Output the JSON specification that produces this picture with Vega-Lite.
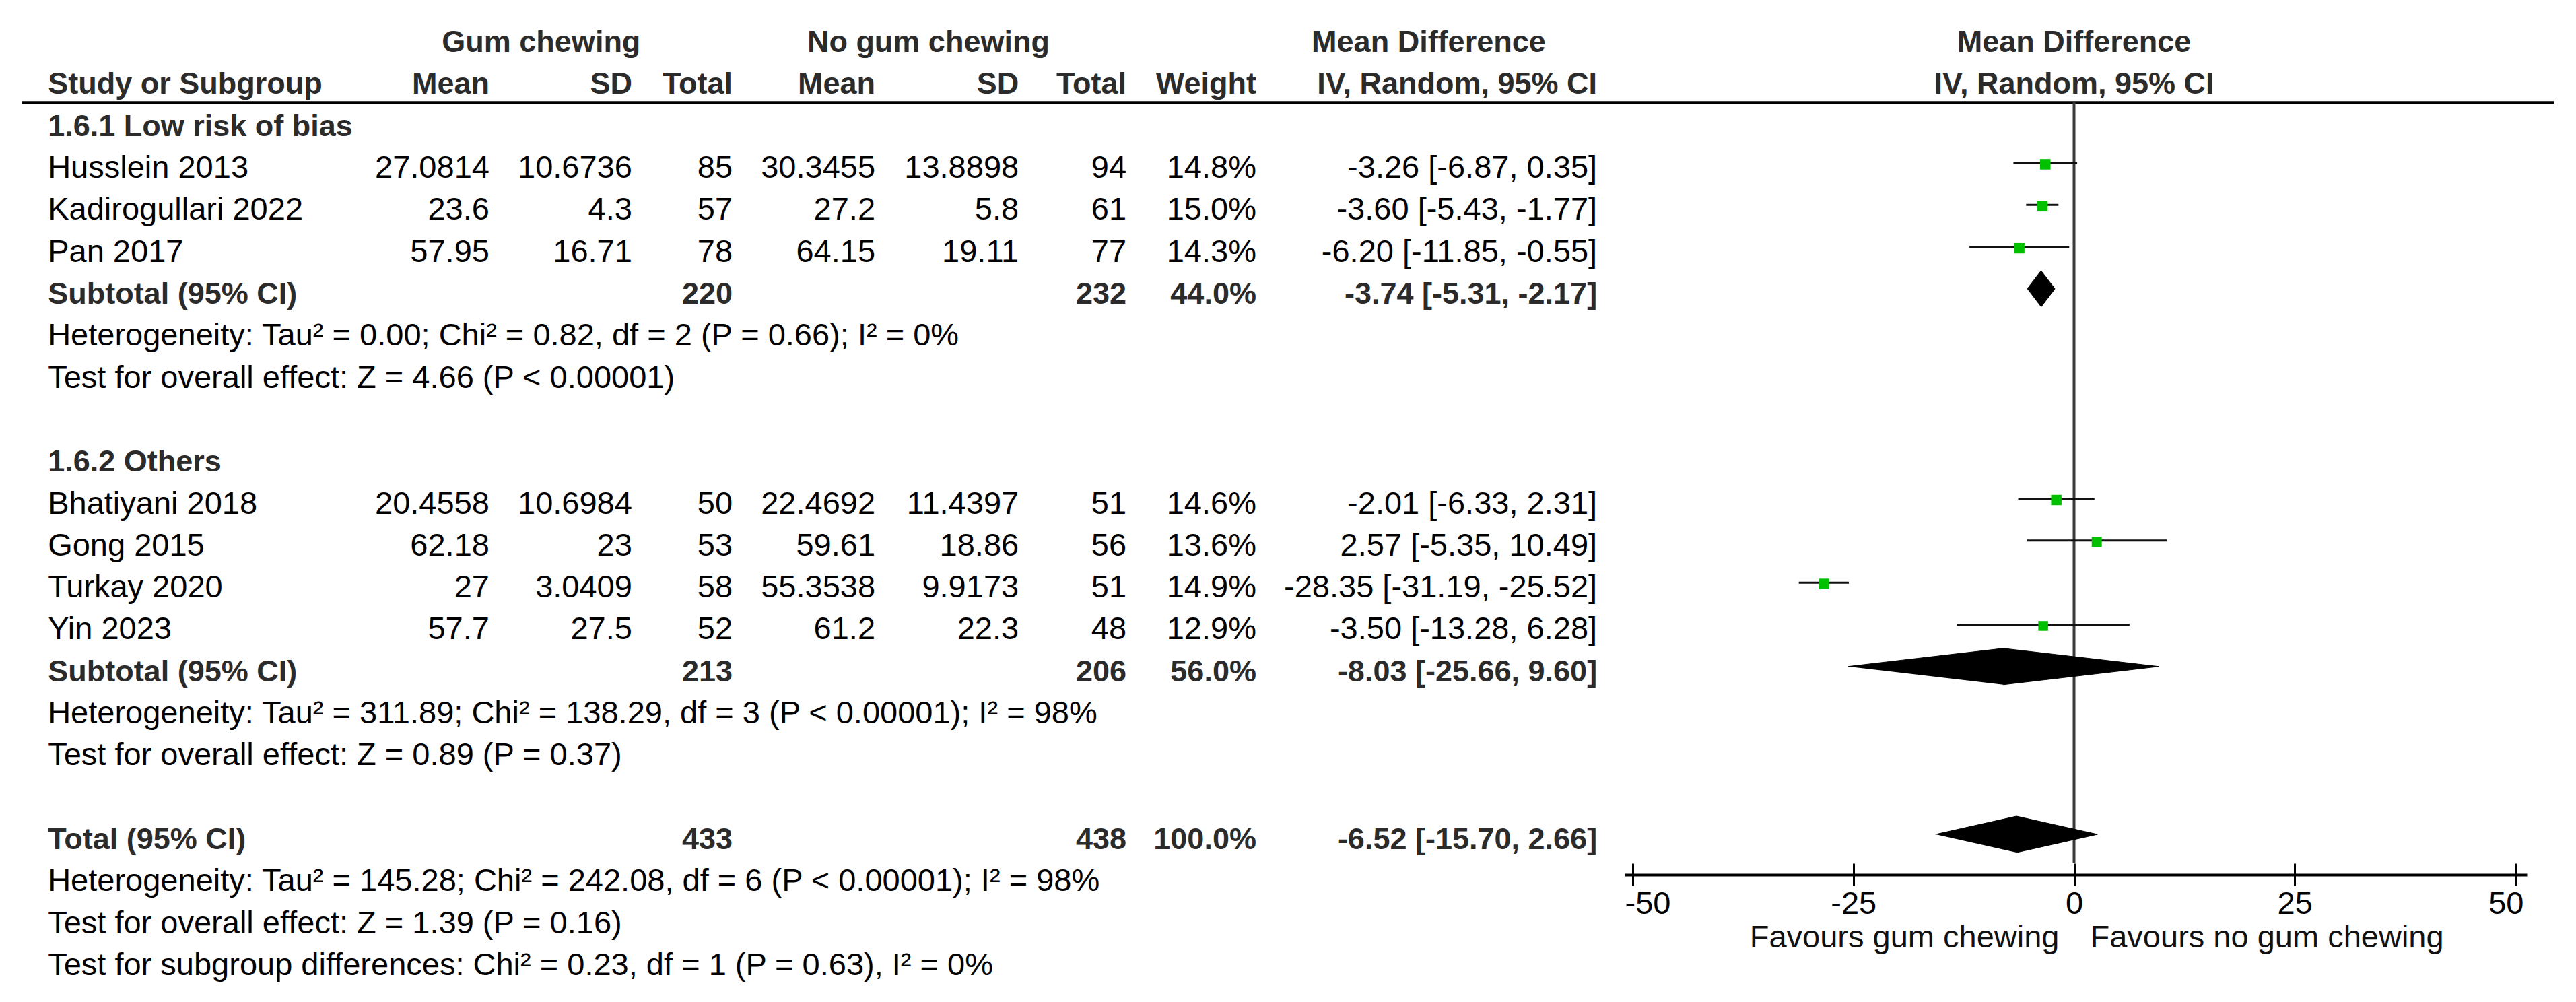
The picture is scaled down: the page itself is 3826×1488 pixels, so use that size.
{
  "$schema": "https://vega.github.io/schema/vega-lite/v6.json",
  "width": 3826,
  "height": 1282,
  "autosize": {"type": "none"},
  "padding": {"left": 0, "top": 0, "right": 0, "bottom": 206},
  "background": "white",
  "config": {"view": {"stroke": null}, "axis": {"grid": false}},
  "datasets": {
    "table": [
      {"row": "hdr2", "type": "head", "label": "Study or Subgroup", "gM": "Mean", "gSD": "SD", "gN": "Total", "nM": "Mean", "nSD": "SD", "nN": "Total", "w": "Weight", "ci": "IV, Random, 95% CI"},
      {"row": "Husslein 2013", "type": "study", "label": "Husslein 2013", "gM": "27.0814", "gSD": "10.6736", "gN": "85", "nM": "30.3455", "nSD": "13.8898", "nN": "94", "w": "14.8%", "ci": "-3.26 [-6.87, 0.35]", "weight": 14.8, "md": -3.26, "lo": -6.87, "hi": 0.35},
      {"row": "Kadirogullari 2022", "type": "study", "label": "Kadirogullari 2022", "gM": "23.6", "gSD": "4.3", "gN": "57", "nM": "27.2", "nSD": "5.8", "nN": "61", "w": "15.0%", "ci": "-3.60 [-5.43, -1.77]", "weight": 15.0, "md": -3.60, "lo": -5.43, "hi": -1.77},
      {"row": "Pan 2017", "type": "study", "label": "Pan 2017", "gM": "57.95", "gSD": "16.71", "gN": "78", "nM": "64.15", "nSD": "19.11", "nN": "77", "w": "14.3%", "ci": "-6.20 [-11.85, -0.55]", "weight": 14.3, "md": -6.20, "lo": -11.85, "hi": -0.55},
      {"row": "sub1", "type": "sub", "label": "Subtotal (95% CI)", "gN": "220", "nN": "232", "w": "44.0%", "ci": "-3.74 [-5.31, -2.17]"},
      {"row": "Bhatiyani 2018", "type": "study", "label": "Bhatiyani 2018", "gM": "20.4558", "gSD": "10.6984", "gN": "50", "nM": "22.4692", "nSD": "11.4397", "nN": "51", "w": "14.6%", "ci": "-2.01 [-6.33, 2.31]", "weight": 14.6, "md": -2.01, "lo": -6.33, "hi": 2.31},
      {"row": "Gong 2015", "type": "study", "label": "Gong 2015", "gM": "62.18", "gSD": "23", "gN": "53", "nM": "59.61", "nSD": "18.86", "nN": "56", "w": "13.6%", "ci": "2.57 [-5.35, 10.49]", "weight": 13.6, "md": 2.57, "lo": -5.35, "hi": 10.49},
      {"row": "Turkay 2020", "type": "study", "label": "Turkay 2020", "gM": "27", "gSD": "3.0409", "gN": "58", "nM": "55.3538", "nSD": "9.9173", "nN": "51", "w": "14.9%", "ci": "-28.35 [-31.19, -25.52]", "weight": 14.9, "md": -28.35, "lo": -31.19, "hi": -25.52},
      {"row": "Yin 2023", "type": "study", "label": "Yin 2023", "gM": "57.7", "gSD": "27.5", "gN": "52", "nM": "61.2", "nSD": "22.3", "nN": "48", "w": "12.9%", "ci": "-3.50 [-13.28, 6.28]", "weight": 12.9, "md": -3.50, "lo": -13.28, "hi": 6.28},
      {"row": "sub2", "type": "sub", "label": "Subtotal (95% CI)", "gN": "213", "nN": "206", "w": "56.0%", "ci": "-8.03 [-25.66, 9.60]"},
      {"row": "total", "type": "sub", "label": "Total (95% CI)", "gN": "433", "nN": "438", "w": "100.0%", "ci": "-6.52 [-15.70, 2.66]"}
    ],
    "diamonds": [
      {"row": "sub1", "vertex": 1, "side": "mid", "value": -5.31},
      {"row": "sub1", "vertex": 2, "side": "top", "value": -3.74},
      {"row": "sub1", "vertex": 3, "side": "mid", "value": -2.17},
      {"row": "sub1", "vertex": 4, "side": "bot", "value": -3.74},
      {"row": "sub2", "vertex": 1, "side": "mid", "value": -25.66},
      {"row": "sub2", "vertex": 2, "side": "top", "value": -8.03},
      {"row": "sub2", "vertex": 3, "side": "mid", "value": 9.60},
      {"row": "sub2", "vertex": 4, "side": "bot", "value": -8.03},
      {"row": "total", "vertex": 1, "side": "mid", "value": -15.70},
      {"row": "total", "vertex": 2, "side": "top", "value": -6.52},
      {"row": "total", "vertex": 3, "side": "mid", "value": 2.66},
      {"row": "total", "vertex": 4, "side": "bot", "value": -6.52}
    ],
    "notes": [
      {"row": "g1", "type": "group", "text": "1.6.1 Low risk of bias"},
      {"row": "het1", "type": "note", "text": "Heterogeneity: Tau² = 0.00; Chi² = 0.82, df = 2 (P = 0.66); I² = 0%"},
      {"row": "test1", "type": "note", "text": "Test for overall effect: Z = 4.66 (P < 0.00001)"},
      {"row": "g2", "type": "group", "text": "1.6.2 Others"},
      {"row": "het2", "type": "note", "text": "Heterogeneity: Tau² = 311.89; Chi² = 138.29, df = 3 (P < 0.00001); I² = 98%"},
      {"row": "test2", "type": "note", "text": "Test for overall effect: Z = 0.89 (P = 0.37)"},
      {"row": "het3", "type": "note", "text": "Heterogeneity: Tau² = 145.28; Chi² = 242.08, df = 6 (P < 0.00001); I² = 98%"},
      {"row": "test3", "type": "note", "text": "Test for overall effect: Z = 1.39 (P = 0.16)"},
      {"row": "subtest", "type": "note", "text": "Test for subgroup differences: Chi² = 0.23, df = 1 (P = 0.63), I² = 0%"}
    ],
    "heads": [
      {"row": "hdr1", "col": "gum", "text": "Gum chewing"},
      {"row": "hdr1", "col": "nogum", "text": "No gum chewing"},
      {"row": "hdr1", "col": "mdtab", "text": "Mean Difference"},
      {"row": "hdr1", "col": "plot", "text": "Mean Difference"},
      {"row": "hdr2", "col": "plot", "text": "IV, Random, 95% CI"}
    ],
    "favours": [
      {"side": "left", "text": "Favours gum chewing"},
      {"side": "right", "text": "Favours no gum chewing"}
    ]
  },
  "encoding": {
    "y": {
      "field": "row",
      "type": "ordinal",
      "scale": {
        "type": "point",
        "domain": ["hdr1", "hdr2", "g1", "Husslein 2013", "Kadirogullari 2022", "Pan 2017", "sub1", "het1", "test1", "gap1", "g2", "Bhatiyani 2018", "Gong 2015", "Turkay 2020", "Yin 2023", "sub2", "het2", "test2", "gap2", "total", "het3", "test3", "subtest"],
        "range": [55, 1426],
        "padding": 0
      },
      "axis": null
    }
  },
  "resolve": {"scale": {"x": "independent"}},
  "layer": [
    {
      "data": {"values": [{}]},
      "mark": {"type": "rule", "strokeWidth": 4, "color": "#000", "yOffset": 35},
      "encoding": {
        "x": {"datum": 0.84, "type": "quantitative", "scale": {"domain": [0, 100], "range": [0, 3826], "nice": false, "zero": false}, "axis": null},
        "x2": {"datum": 99.14},
        "y": {"datum": "hdr2", "type": "ordinal"}
      }
    },
    {
      "data": {"values": [{}]},
      "mark": {"type": "rule", "strokeWidth": 4, "color": "#3a3a3a", "yOffset": 35},
      "encoding": {
        "x": {"datum": 0, "type": "quantitative", "scale": {"domain": [-50.92, 51.3], "range": [2413, 3753], "nice": false, "zero": false}, "axis": null},
        "y": {"datum": "hdr2", "type": "ordinal"},
        "y2": {"value": "height"}
      }
    },
    {
      "data": {"name": "heads"},
      "transform": [{"filter": "datum.col === 'plot'"}],
      "mark": {"type": "text", "align": "center", "baseline": "alphabetic", "dy": 22, "font": "Liberation Sans", "fontSize": 45, "fontWeight": "bold", "color": "#2b2b2b"},
      "encoding": {
        "x": {"datum": 0, "type": "quantitative", "scale": {"domain": [-50.92, 51.3], "range": [2413, 3753], "nice": false, "zero": false}, "axis": null},
        "text": {"field": "text", "type": "nominal"}
      }
    },
    {
      "data": {"name": "heads"},
      "transform": [{"filter": "datum.col === 'gum'"}],
      "mark": {"type": "text", "align": "center", "baseline": "alphabetic", "dy": 22, "font": "Liberation Sans", "fontSize": 45, "fontWeight": "bold", "color": "#2b2b2b"},
      "encoding": {
        "x": {"datum": 21.01, "type": "quantitative", "scale": {"domain": [0, 100], "range": [0, 3826], "nice": false, "zero": false}, "axis": null},
        "text": {"field": "text", "type": "nominal"}
      }
    },
    {
      "data": {"name": "heads"},
      "transform": [{"filter": "datum.col === 'nogum'"}],
      "mark": {"type": "text", "align": "center", "baseline": "alphabetic", "dy": 22, "font": "Liberation Sans", "fontSize": 45, "fontWeight": "bold", "color": "#2b2b2b"},
      "encoding": {
        "x": {"datum": 36.04, "type": "quantitative", "scale": {"domain": [0, 100], "range": [0, 3826], "nice": false, "zero": false}, "axis": null},
        "text": {"field": "text", "type": "nominal"}
      }
    },
    {
      "data": {"name": "heads"},
      "transform": [{"filter": "datum.col === 'mdtab'"}],
      "mark": {"type": "text", "align": "center", "baseline": "alphabetic", "dy": 22, "font": "Liberation Sans", "fontSize": 45, "fontWeight": "bold", "color": "#2b2b2b"},
      "encoding": {
        "x": {"datum": 55.46, "type": "quantitative", "scale": {"domain": [0, 100], "range": [0, 3826], "nice": false, "zero": false}, "axis": null},
        "text": {"field": "text", "type": "nominal"}
      }
    },
    {
      "data": {"name": "notes"},
      "transform": [{"filter": "datum.type === 'group'"}],
      "mark": {"type": "text", "align": "left", "baseline": "alphabetic", "dy": 22, "font": "Liberation Sans", "fontSize": 45, "fontWeight": "bold", "color": "#2b2b2b"},
      "encoding": {
        "x": {"datum": 1.86, "type": "quantitative", "scale": {"domain": [0, 100], "range": [0, 3826], "nice": false, "zero": false}, "axis": null},
        "text": {"field": "text", "type": "nominal"}
      }
    },
    {
      "data": {"name": "notes"},
      "transform": [{"filter": "datum.type === 'note'"}],
      "mark": {"type": "text", "align": "left", "baseline": "alphabetic", "dy": 22, "font": "Liberation Sans", "fontSize": 47, "color": "#000"},
      "encoding": {
        "x": {"datum": 1.86, "type": "quantitative", "scale": {"domain": [0, 100], "range": [0, 3826], "nice": false, "zero": false}, "axis": null},
        "text": {"field": "text", "type": "nominal"}
      }
    },
    {
      "data": {"name": "table"},
      "transform": [{"filter": "datum.type === 'study'"}],
      "mark": {"type": "text", "align": "left", "baseline": "alphabetic", "dy": 22, "font": "Liberation Sans", "fontSize": 47, "color": "#000"},
      "encoding": {
        "x": {"datum": 1.86, "type": "quantitative", "scale": {"domain": [0, 100], "range": [0, 3826], "nice": false, "zero": false}, "axis": null},
        "text": {"field": "label", "type": "nominal"}
      }
    },
    {
      "data": {"name": "table"},
      "transform": [{"filter": "datum.type === 'study'"}],
      "mark": {"type": "text", "align": "right", "baseline": "alphabetic", "dy": 22, "font": "Liberation Sans", "fontSize": 47, "color": "#000"},
      "encoding": {
        "x": {"datum": 19.0, "type": "quantitative", "scale": {"domain": [0, 100], "range": [0, 3826], "nice": false, "zero": false}, "axis": null},
        "text": {"field": "gM", "type": "nominal"}
      }
    },
    {
      "data": {"name": "table"},
      "transform": [{"filter": "datum.type === 'study'"}],
      "mark": {"type": "text", "align": "right", "baseline": "alphabetic", "dy": 22, "font": "Liberation Sans", "fontSize": 47, "color": "#000"},
      "encoding": {
        "x": {"datum": 24.54, "type": "quantitative", "scale": {"domain": [0, 100], "range": [0, 3826], "nice": false, "zero": false}, "axis": null},
        "text": {"field": "gSD", "type": "nominal"}
      }
    },
    {
      "data": {"name": "table"},
      "transform": [{"filter": "datum.type === 'study'"}],
      "mark": {"type": "text", "align": "right", "baseline": "alphabetic", "dy": 22, "font": "Liberation Sans", "fontSize": 47, "color": "#000"},
      "encoding": {
        "x": {"datum": 28.44, "type": "quantitative", "scale": {"domain": [0, 100], "range": [0, 3826], "nice": false, "zero": false}, "axis": null},
        "text": {"field": "gN", "type": "nominal"}
      }
    },
    {
      "data": {"name": "table"},
      "transform": [{"filter": "datum.type === 'study'"}],
      "mark": {"type": "text", "align": "right", "baseline": "alphabetic", "dy": 22, "font": "Liberation Sans", "fontSize": 47, "color": "#000"},
      "encoding": {
        "x": {"datum": 33.98, "type": "quantitative", "scale": {"domain": [0, 100], "range": [0, 3826], "nice": false, "zero": false}, "axis": null},
        "text": {"field": "nM", "type": "nominal"}
      }
    },
    {
      "data": {"name": "table"},
      "transform": [{"filter": "datum.type === 'study'"}],
      "mark": {"type": "text", "align": "right", "baseline": "alphabetic", "dy": 22, "font": "Liberation Sans", "fontSize": 47, "color": "#000"},
      "encoding": {
        "x": {"datum": 39.55, "type": "quantitative", "scale": {"domain": [0, 100], "range": [0, 3826], "nice": false, "zero": false}, "axis": null},
        "text": {"field": "nSD", "type": "nominal"}
      }
    },
    {
      "data": {"name": "table"},
      "transform": [{"filter": "datum.type === 'study'"}],
      "mark": {"type": "text", "align": "right", "baseline": "alphabetic", "dy": 22, "font": "Liberation Sans", "fontSize": 47, "color": "#000"},
      "encoding": {
        "x": {"datum": 43.73, "type": "quantitative", "scale": {"domain": [0, 100], "range": [0, 3826], "nice": false, "zero": false}, "axis": null},
        "text": {"field": "nN", "type": "nominal"}
      }
    },
    {
      "data": {"name": "table"},
      "transform": [{"filter": "datum.type === 'study'"}],
      "mark": {"type": "text", "align": "right", "baseline": "alphabetic", "dy": 22, "font": "Liberation Sans", "fontSize": 47, "color": "#000"},
      "encoding": {
        "x": {"datum": 48.77, "type": "quantitative", "scale": {"domain": [0, 100], "range": [0, 3826], "nice": false, "zero": false}, "axis": null},
        "text": {"field": "w", "type": "nominal"}
      }
    },
    {
      "data": {"name": "table"},
      "transform": [{"filter": "datum.type === 'study'"}],
      "mark": {"type": "text", "align": "right", "baseline": "alphabetic", "dy": 22, "font": "Liberation Sans", "fontSize": 47, "color": "#000"},
      "encoding": {
        "x": {"datum": 62.0, "type": "quantitative", "scale": {"domain": [0, 100], "range": [0, 3826], "nice": false, "zero": false}, "axis": null},
        "text": {"field": "ci", "type": "nominal"}
      }
    },
    {
      "data": {"name": "table"},
      "transform": [{"filter": "datum.type !== 'study'"}],
      "mark": {"type": "text", "align": "left", "baseline": "alphabetic", "dy": 22, "font": "Liberation Sans", "fontSize": 45, "fontWeight": "bold", "color": "#2b2b2b"},
      "encoding": {
        "x": {"datum": 1.86, "type": "quantitative", "scale": {"domain": [0, 100], "range": [0, 3826], "nice": false, "zero": false}, "axis": null},
        "text": {"field": "label", "type": "nominal"}
      }
    },
    {
      "data": {"name": "table"},
      "transform": [{"filter": "datum.type !== 'study' && isValid(datum.gM)"}],
      "mark": {"type": "text", "align": "right", "baseline": "alphabetic", "dy": 22, "font": "Liberation Sans", "fontSize": 45, "fontWeight": "bold", "color": "#2b2b2b"},
      "encoding": {
        "x": {"datum": 19.0, "type": "quantitative", "scale": {"domain": [0, 100], "range": [0, 3826], "nice": false, "zero": false}, "axis": null},
        "text": {"field": "gM", "type": "nominal"}
      }
    },
    {
      "data": {"name": "table"},
      "transform": [{"filter": "datum.type !== 'study' && isValid(datum.gSD)"}],
      "mark": {"type": "text", "align": "right", "baseline": "alphabetic", "dy": 22, "font": "Liberation Sans", "fontSize": 45, "fontWeight": "bold", "color": "#2b2b2b"},
      "encoding": {
        "x": {"datum": 24.54, "type": "quantitative", "scale": {"domain": [0, 100], "range": [0, 3826], "nice": false, "zero": false}, "axis": null},
        "text": {"field": "gSD", "type": "nominal"}
      }
    },
    {
      "data": {"name": "table"},
      "transform": [{"filter": "datum.type !== 'study' && isValid(datum.gN)"}],
      "mark": {"type": "text", "align": "right", "baseline": "alphabetic", "dy": 22, "font": "Liberation Sans", "fontSize": 45, "fontWeight": "bold", "color": "#2b2b2b"},
      "encoding": {
        "x": {"datum": 28.44, "type": "quantitative", "scale": {"domain": [0, 100], "range": [0, 3826], "nice": false, "zero": false}, "axis": null},
        "text": {"field": "gN", "type": "nominal"}
      }
    },
    {
      "data": {"name": "table"},
      "transform": [{"filter": "datum.type !== 'study' && isValid(datum.nM)"}],
      "mark": {"type": "text", "align": "right", "baseline": "alphabetic", "dy": 22, "font": "Liberation Sans", "fontSize": 45, "fontWeight": "bold", "color": "#2b2b2b"},
      "encoding": {
        "x": {"datum": 33.98, "type": "quantitative", "scale": {"domain": [0, 100], "range": [0, 3826], "nice": false, "zero": false}, "axis": null},
        "text": {"field": "nM", "type": "nominal"}
      }
    },
    {
      "data": {"name": "table"},
      "transform": [{"filter": "datum.type !== 'study' && isValid(datum.nSD)"}],
      "mark": {"type": "text", "align": "right", "baseline": "alphabetic", "dy": 22, "font": "Liberation Sans", "fontSize": 45, "fontWeight": "bold", "color": "#2b2b2b"},
      "encoding": {
        "x": {"datum": 39.55, "type": "quantitative", "scale": {"domain": [0, 100], "range": [0, 3826], "nice": false, "zero": false}, "axis": null},
        "text": {"field": "nSD", "type": "nominal"}
      }
    },
    {
      "data": {"name": "table"},
      "transform": [{"filter": "datum.type !== 'study' && isValid(datum.nN)"}],
      "mark": {"type": "text", "align": "right", "baseline": "alphabetic", "dy": 22, "font": "Liberation Sans", "fontSize": 45, "fontWeight": "bold", "color": "#2b2b2b"},
      "encoding": {
        "x": {"datum": 43.73, "type": "quantitative", "scale": {"domain": [0, 100], "range": [0, 3826], "nice": false, "zero": false}, "axis": null},
        "text": {"field": "nN", "type": "nominal"}
      }
    },
    {
      "data": {"name": "table"},
      "transform": [{"filter": "datum.type !== 'study' && isValid(datum.w)"}],
      "mark": {"type": "text", "align": "right", "baseline": "alphabetic", "dy": 22, "font": "Liberation Sans", "fontSize": 45, "fontWeight": "bold", "color": "#2b2b2b"},
      "encoding": {
        "x": {"datum": 48.77, "type": "quantitative", "scale": {"domain": [0, 100], "range": [0, 3826], "nice": false, "zero": false}, "axis": null},
        "text": {"field": "w", "type": "nominal"}
      }
    },
    {
      "data": {"name": "table"},
      "transform": [{"filter": "datum.type !== 'study' && isValid(datum.ci)"}],
      "mark": {"type": "text", "align": "right", "baseline": "alphabetic", "dy": 22, "font": "Liberation Sans", "fontSize": 45, "fontWeight": "bold", "color": "#2b2b2b"},
      "encoding": {
        "x": {"datum": 62.0, "type": "quantitative", "scale": {"domain": [0, 100], "range": [0, 3826], "nice": false, "zero": false}, "axis": null},
        "text": {"field": "ci", "type": "nominal"}
      }
    },
    {
      "data": {"name": "table"},
      "transform": [{"filter": "datum.type === 'study'"}],
      "mark": {"type": "rule", "strokeWidth": 3, "color": "#111"},
      "encoding": {
        "x": {
          "field": "lo", "type": "quantitative",
          "scale": {"domain": [-50.92, 51.3], "range": [2413, 3753], "nice": false, "zero": false},
          "axis": {"orient": "bottom", "values": [-50, -25, 0, 25, 50], "domain": true, "domainWidth": 4, "domainColor": "#000", "ticks": false, "labels": false, "title": null, "grid": false, "offset": 17}
        },
        "x2": {"field": "hi"}
      }
    },
    {
      "data": {"name": "table"},
      "transform": [{"filter": "datum.type === 'study'"}],
      "mark": {"type": "square", "filled": true, "color": "#00C000", "opacity": 1, "yOffset": 2},
      "encoding": {
        "x": {
          "field": "md", "type": "quantitative",
          "scale": {"domain": [-50.92, 51.3], "range": [2413, 3753], "nice": false, "zero": false},
          "axis": {"orient": "bottom", "values": [-50, -25, 0, 25, 50], "labelExpr": "'' + datum.value", "domain": false, "ticks": true, "tickSize": 33, "tickWidth": 3, "tickColor": "#000", "labels": true, "labelFont": "Liberation Sans", "labelFontSize": 47, "labelColor": "#000", "labelPadding": 4, "labelFlush": 20, "labelFlushOffset": 12, "title": null, "grid": false}
        },
        "size": {"field": "weight", "type": "quantitative", "scale": {"domain": [0, 15], "range": [0, 245]}, "legend": null}
      }
    },
    {
      "data": {"name": "diamonds"},
      "mark": {"type": "line", "filled": true, "color": "#000", "stroke": "#000", "strokeWidth": 1, "interpolate": "linear"},
      "encoding": {
        "x": {"field": "value", "type": "quantitative", "scale": {"domain": [-50.92, 51.3], "range": [2413, 3753], "nice": false, "zero": false}, "axis": null},
        "yOffset": {"field": "side", "type": "ordinal", "scale": {"type": "point", "domain": ["top", "mid", "bot"], "range": [-27, 27], "padding": 0}},
        "detail": {"field": "row"},
        "order": {"field": "vertex", "type": "quantitative"}
      }
    },
    {
      "data": {"name": "favours"},
      "transform": [{"filter": "datum.side === 'left'"}],
      "mark": {"type": "text", "align": "right", "baseline": "alphabetic", "dx": -22, "dy": 125, "font": "Liberation Sans", "fontSize": 47, "color": "#111"},
      "encoding": {
        "x": {"datum": 0, "type": "quantitative", "scale": {"domain": [-50.92, 51.3], "range": [2413, 3753], "nice": false, "zero": false}, "axis": null},
        "y": {"value": "height"},
        "text": {"field": "text", "type": "nominal"}
      }
    },
    {
      "data": {"name": "favours"},
      "transform": [{"filter": "datum.side === 'right'"}],
      "mark": {"type": "text", "align": "left", "baseline": "alphabetic", "dx": 24, "dy": 125, "font": "Liberation Sans", "fontSize": 47, "color": "#111"},
      "encoding": {
        "x": {"datum": 0, "type": "quantitative", "scale": {"domain": [-50.92, 51.3], "range": [2413, 3753], "nice": false, "zero": false}, "axis": null},
        "y": {"value": "height"},
        "text": {"field": "text", "type": "nominal"}
      }
    }
  ]
}
